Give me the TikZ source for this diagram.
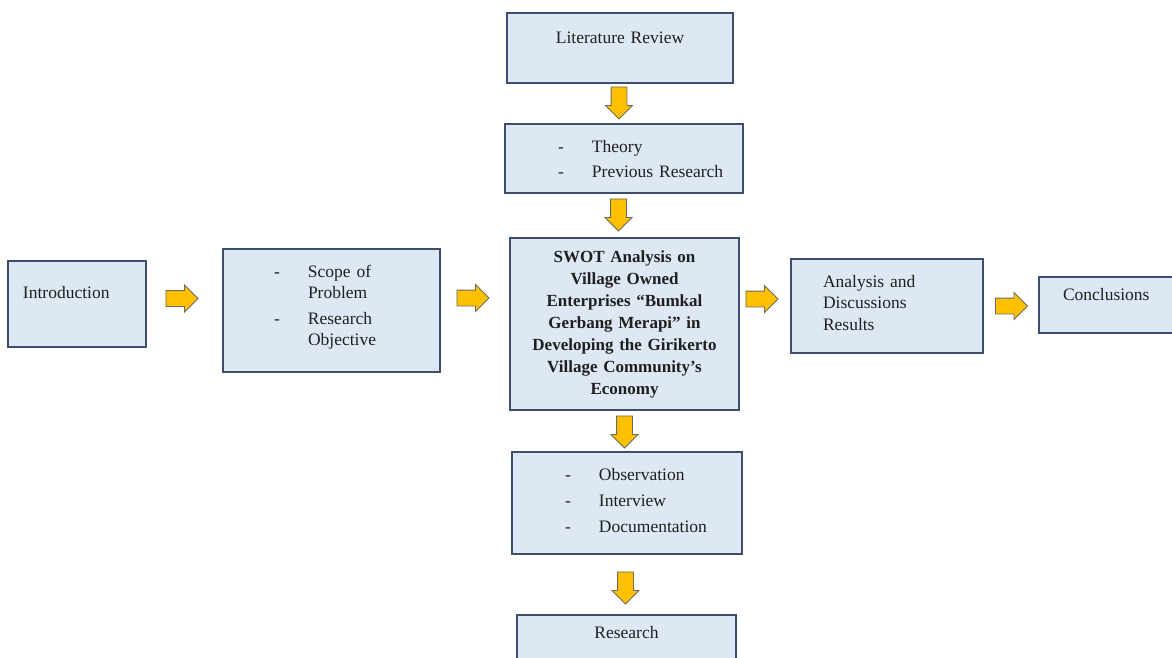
\documentclass[tikz,border=0pt]{standalone}
\usepackage{fontspec}
\setmainfont{Liberation Serif}
\usetikzlibrary{shapes.arrows,calc}

\definecolor{boxfill}{HTML}{DEE8F4}
\definecolor{boxline}{HTML}{3E4F6E}
\definecolor{arrfill}{HTML}{FFC000}
\definecolor{arrline}{HTML}{6E6A5E}

% dash item: indent, dash, then the text
\newcommand\dashit[1]{\hspace*{#1pt}\makebox[34pt][l]{-}}
\newcommand\ind[1]{\hspace*{#1pt}}

\begin{document}
\begin{tikzpicture}[
  x=1pt, y=-1pt,
  font=\fontsize{17.5}{21}\selectfont,
  box/.style={
    rectangle, draw=boxline, fill=boxfill,
    line width=1.4pt, inner sep=0pt,
    text=black!88, align=left
  },
  blockarr/.style={
    single arrow, draw=arrline, fill=arrfill,
    line width=0.9pt, inner xsep=0pt, inner ysep=7.5pt,
    minimum height=32pt,
    single arrow head extend=5.5pt, single arrow head indent=0pt
  },
  rarr/.style={blockarr},
  darr/.style={blockarr, rotate=-90}
]

\useasboundingbox (0,0) rectangle (1172,657);
\clip (0,0) rectangle (1172,657);

% =========================================================================
% Stredný stĺpec
% =========================================================================
\node[box, align=center, text width=226pt, text height=30pt, text depth=40pt]
  (lit) at (620,48) {Literature Review};

\node[box, text width=238pt, text height=28pt, text depth=41pt,
      font=\fontsize{17.5}{25}\selectfont]
  (theory) at (624,158.5) {\dashit{53}Theory\\\dashit{53}Previous Research};

\node[box, align=center, text width=229pt, text height=24pt, text depth=148pt,
      font=\fontsize{17}{22}\selectfont\bfseries]
  (swot) at (624.5,324) {%
  SWOT Analysis on\\
  Village Owned\\
  Enterprises “Bumkal\\
  Gerbang Merapi” in\\
  Developing the Girikerto\\
  Village Community’s\\
  Economy};

\node[box, text width=230pt, text height=28pt, text depth=74pt,
      font=\fontsize{17.5}{26}\selectfont]
  (obs) at (627,503) {\dashit{53}Observation\\\dashit{53}Interview\\\dashit{53}Documentation};

\node[box, align=center, text width=219pt, text height=23pt, text depth=42pt]
  (research) at (626.5,647.5) {Research};

% =========================================================================
% Vodorovný rad
% =========================================================================
\node[box, text width=138pt, text height=37pt, text depth=49pt]
  (intro) at (77,304) {\ind{15}Introduction};

\node[box, text width=217pt, text height=28pt, text depth=95pt]
  (scope) at (331.5,310.5) {%
  \dashit{51}Scope of\\\ind{85}Problem\\[5pt]%
  \dashit{51}Research\\\ind{85}Objective};

\node[box, text width=192pt, text height=28pt, text depth=66pt,
      font=\fontsize{17.5}{21.5}\selectfont]
  (analysis) at (887,306) {\ind{32}Analysis and\\\ind{32}Discussions\\\ind{32}Results};

\node[box, text width=156pt, text height=23pt, text depth=33pt]
  (concl) at (1117,305) {\ind{24}Conclusions};

% =========================================================================
% Šípky
% =========================================================================
\node[rarr] (a1) at (178,298.5) {};
\node[rarr] (a2) at (469,298) {};
\node[rarr] (a3) at (758,299) {};
\node[rarr] (a4) at (1007.5,306) {};

\node[darr] (d1) at (619,99) {};
\node[darr] (d2) at (618.5,211) {};
\node[darr] (d3) at (624.5,428) {};
\node[darr] (d4) at (625.5,584) {};

\end{tikzpicture}
\end{document}
